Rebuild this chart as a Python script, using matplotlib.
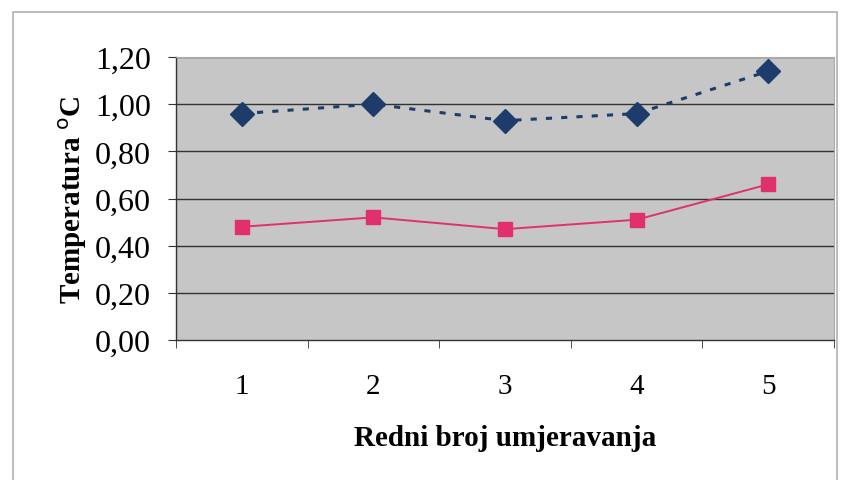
import matplotlib.pyplot as plt
from matplotlib.patches import Rectangle

categories = [1, 2, 3, 4, 5]
serija_a = [0.96, 1.00, 0.93, 0.96, 1.14]
serija_b = [0.48, 0.52, 0.47, 0.51, 0.66]
y_ticks = [0.0, 0.2, 0.4, 0.6, 0.8, 1.0, 1.2]
y_labels = ["0,00", "0,20", "0,40", "0,60", "0,80", "1,00", "1,20"]

plt.rcParams['font.family'] = ['Liberation Serif', 'DejaVu Serif']

fig = plt.figure(figsize=(8.41, 4.81), dpi=100)
ax = fig.add_axes([176 / 841, 1 - 341 / 481, (834 - 176) / 841, (341 - 58) / 481])

# okvir slike
fig.patches.append(Rectangle((13 / 841, -0.01), 824 / 841, 1 - 13 / 481 + 0.01,
                             transform=fig.transFigure, fill=False,
                             edgecolor='#b0b0b0', linewidth=1.2))

ax.set_facecolor('#c6c6c6')
for y in y_ticks[1:]:
    ax.axhline(y, color='#333333', linewidth=1.0, zorder=1)

ax.plot(categories, serija_a, color='#1e3c6b', linestyle=(0, (2, 3)), linewidth=2.2,
        marker='D', markersize=12, zorder=3)
ax.plot(categories, serija_b, color='#e0306e', linestyle='-', linewidth=1.4,
        marker='s', markersize=10, zorder=3)

ax.set_xlim(0.5, 5.5)
ax.set_ylim(0, 1.2)
ax.set_yticks(y_ticks)
ax.set_yticklabels(y_labels, fontsize=23)
ax.set_xticks(categories)
ax.set_xticklabels([str(c) for c in categories], fontsize=21)
ax.set_xticks([0.5 + i for i in range(6)], minor=True)
ax.tick_params(axis='x', which='major', length=0, pad=24)
ax.tick_params(axis='x', which='minor', length=6, direction='out', color='#333333')
ax.tick_params(axis='y', length=6, direction='out', color='#333333', pad=12)

for side in ['top', 'right']:
    ax.spines[side].set_color('#aaaaaa')
    ax.spines[side].set_linewidth(0.8)
for side in ['left', 'bottom']:
    ax.spines[side].set_color('#333333')
    ax.spines[side].set_linewidth(1.0)

ax.set_xlabel("Redni broj umjeravanja", fontsize=21, fontweight='bold', labelpad=18)
ax.set_ylabel("Temperatura $^{\\mathrm{o}}$C", fontsize=21, fontweight='bold', labelpad=4)

fig.savefig("out.png", dpi=100)
